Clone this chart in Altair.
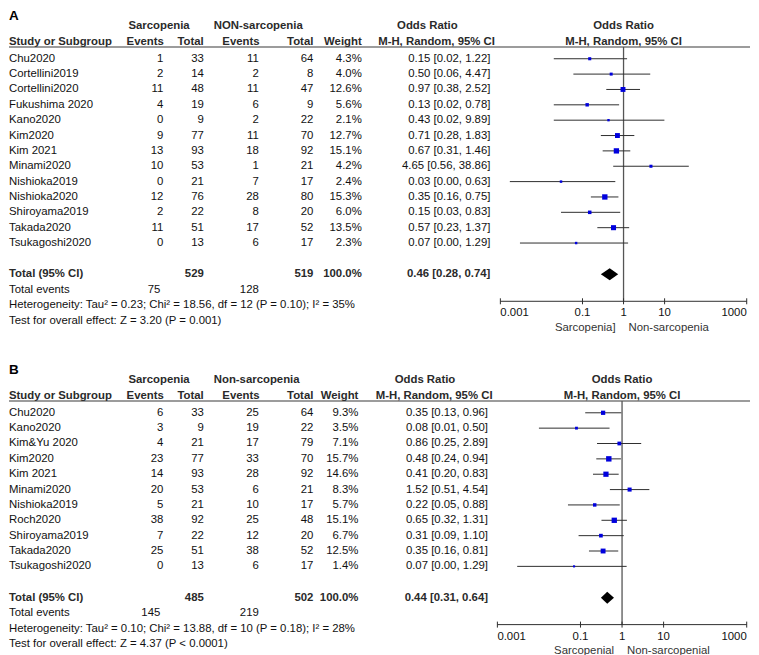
import altair as alt
import pandas as pd

# ---------------- Panel A data ----------------
a_study = ["Chu2020", "Cortellini2019", "Cortellini2020", "Fukushima 2020", "Kano2020", "Kim2020",
           "Kim 2021", "Minami2020", "Nishioka2019", "Nishioka2020", "Shiroyama2019", "Takada2020",
           "Tsukagoshi2020"]
a_sarc_events = [1, 2, 11, 4, 0, 9, 13, 10, 0, 12, 2, 11, 0]
a_sarc_total = [33, 14, 48, 19, 9, 77, 93, 53, 21, 76, 22, 51, 13]
a_non_events = [11, 2, 11, 6, 2, 11, 18, 1, 7, 28, 8, 17, 6]
a_non_total = [64, 8, 47, 9, 22, 70, 92, 21, 17, 80, 20, 52, 17]
a_weight = [4.3, 4.0, 12.6, 5.6, 2.1, 12.7, 15.1, 4.2, 2.4, 15.3, 6.0, 13.5, 2.3]
a_or = [0.15, 0.50, 0.97, 0.13, 0.43, 0.71, 0.67, 4.65, 0.03, 0.35, 0.15, 0.57, 0.07]
a_lo = [0.02, 0.06, 0.38, 0.02, 0.02, 0.28, 0.31, 0.56, 0.0017, 0.16, 0.03, 0.23, 0.003]
a_hi = [1.22, 4.47, 2.52, 0.78, 9.89, 1.83, 1.46, 38.86, 0.63, 0.75, 0.83, 1.37, 1.29]
a_total = {"sarc_total": 529, "non_total": 519, "weight": 100.0, "or": 0.46, "lo": 0.28, "hi": 0.74,
           "sarc_events": 75, "non_events": 128}
a_het = "Heterogeneity: Tau\u00b2 = 0.23; Chi\u00b2 = 18.56, df = 12 (P = 0.10); I\u00b2 = 35%"
a_test = "Test for overall effect: Z = 3.20 (P = 0.001)"
a_groups = ["Sarcopenia", "NON-sarcopenia"]
a_sides = ["Sarcopenia]", "Non-sarcopenia"]

# ---------------- Panel B data ----------------
b_study = ["Chu2020", "Kano2020", "Kim&Yu 2020", "Kim2020", "Kim 2021", "Minami2020", "Nishioka2019",
           "Roch2020", "Shiroyama2019", "Takada2020", "Tsukagoshi2020"]
b_sarc_events = [6, 3, 4, 23, 14, 20, 5, 38, 7, 25, 0]
b_sarc_total = [33, 9, 21, 77, 93, 53, 21, 92, 22, 51, 13]
b_non_events = [25, 19, 17, 33, 28, 6, 10, 25, 12, 38, 6]
b_non_total = [64, 22, 79, 70, 92, 21, 17, 48, 20, 52, 17]
b_weight = [9.3, 3.5, 7.1, 15.7, 14.6, 8.3, 5.7, 15.1, 6.7, 12.5, 1.4]
b_or = [0.35, 0.08, 0.86, 0.48, 0.41, 1.52, 0.22, 0.65, 0.31, 0.35, 0.07]
b_lo = [0.13, 0.01, 0.25, 0.24, 0.20, 0.51, 0.05, 0.32, 0.09, 0.16, 0.003]
b_hi = [0.96, 0.50, 2.89, 0.94, 0.83, 4.54, 0.88, 1.31, 1.10, 0.81, 1.29]
b_total = {"sarc_total": 485, "non_total": 502, "weight": 100.0, "or": 0.44, "lo": 0.31, "hi": 0.64,
           "sarc_events": 145, "non_events": 219}
b_het = "Heterogeneity: Tau\u00b2 = 0.10; Chi\u00b2 = 13.88, df = 10 (P = 0.18); I\u00b2 = 28%"
b_test = "Test for overall effect: Z = 4.37 (P < 0.0001)"
b_groups = ["Sarcopenia", "Non-sarcopenia"]
b_sides = ["Sarcopenial", "Non-sarcopenial"]

# ---------------- shared axis ----------------
tick_values = [0.001, 0.1, 1, 10, 1000]
tick_labels = ["0.001", "0.1", "1", "10", "1000"]

FONT = "Liberation Sans, Arial, Helvetica, sans-serif"
FS = 11.4
TXT = "#111111"
HDR = "#2a2a2a"
LINE = "#2e2e2e"
W = 743
STEP = 15.4
ROW0 = 48

# column positions (px from left of panel)
SE_X, ST_X, NE_X, NT_X = 154.7, 195.3, 250.5, 305.2
G1_X, G2_X = 119.7, 205.3


def fmt_or(e, l, h):
    return f"{e:.2f} [{l:.2f}, {h:.2f}]"


def panel(letter, groups, study, se, st, ne, nt, wt, est, lo, hi, tot, het, test, sides,
          H, xr, w_x, or_x):
    n = len(study)
    r = lambda px: px / STEP
    yscale = alt.Scale(domain=[-ROW0 / STEP, (H - ROW0) / STEP], range=[0, H], nice=False, zero=False)
    xscale = alt.Scale(type="log", domain=[tick_values[0], tick_values[-1]], range=xr, nice=False)
    Y = lambda f: alt.Y(f, type="quantitative", scale=yscale, axis=None)
    X = lambda f: alt.X(f, type="quantitative", scale=xscale, axis=None)

    row_letter = r(-43)
    row_group = r(-32.7)
    row_head = r(-16.5)
    row_line = r(-11.8)
    row_total = (n - 1) + r(31.4)
    row_events = row_total + r(15.6)
    row_het = row_total + r(31)
    row_test = row_total + r(46.4)
    row_axis = row_total + r(27)
    row_axlab = row_axis + r(12)
    row_side = row_axis + r(26.6)

    df = pd.DataFrame({
        "row": list(range(n)),
        "study": study,
        "se": [str(v) for v in se],
        "st": [str(v) for v in st],
        "ne": [str(v) for v in ne],
        "nt": [str(v) for v in nt],
        "wtxt": [f"{v:.1f}%" for v in wt],
        "weight": wt,
        "ortxt": [fmt_or(e, l, h) for e, l, h in zip(est, lo, hi)],
        "est": est, "lo": lo, "hi": hi,
    })

    layers = []

    def col(field, x, align="right", bold=False, data=None):
        return alt.Chart(df if data is None else data).mark_text(
            align=align, baseline="middle", font=FONT, fontSize=FS,
            fontWeight="bold" if bold else "normal", color=TXT
        ).encode(x=alt.value(x), y=Y("row"), text=alt.Text(field, type="nominal"))

    def label(text, row, x=None, xval=None, align="left", bold=False, size=FS, color=TXT, dx=0):
        d = pd.DataFrame({"row": [row], "t": [text], "xv": [xval if xval is not None else 1]})
        enc = dict(y=Y("row"), text=alt.Text("t", type="nominal"))
        enc["x"] = alt.value(x) if x is not None else X("xv")
        return alt.Chart(d).mark_text(
            align=align, baseline="middle", font=FONT, fontSize=size, dx=dx,
            fontWeight="bold" if bold else "normal", color=color
        ).encode(**enc)

    # header texts
    layers += [
        label(letter, row_letter, x=0, bold=True, size=13.5, color="#000"),
        label(groups[0], row_group, x=G1_X, bold=True, color=HDR),
        label(groups[1], row_group, x=G2_X, bold=True, color=HDR),
        label("Odds Ratio", row_group, x=or_x - 63.2, align="center", bold=True, color=HDR),
        label("Odds Ratio", row_group, xval=1, align="center", bold=True, color=HDR),
        label("Study or Subgroup", row_head, x=0, bold=True, color=HDR),
        label("Events", row_head, x=SE_X + 0.6, align="right", bold=True, color=HDR),
        label("Total", row_head, x=ST_X, align="right", bold=True, color=HDR),
        label("Events", row_head, x=NE_X + 0.8, align="right", bold=True, color=HDR),
        label("Total", row_head, x=NT_X, align="right", bold=True, color=HDR),
        label("Weight", row_head, x=w_x, align="right", bold=True, color=HDR),
        label("M-H, Random, 95% CI", row_head, x=or_x - 54, align="center", bold=True, color=HDR),
        label("M-H, Random, 95% CI", row_head, xval=1, align="center", bold=True, color=HDR),
    ]

    # header rule
    layers.append(
        alt.Chart(pd.DataFrame({"row": [row_line]})).mark_rule(color="#3a3a3a", strokeWidth=1.1).encode(
            x=alt.value(0), x2=alt.value(W), y=Y("row"))
    )

    # study rows
    layers += [
        col("study", 0, align="left"),
        col("se", SE_X), col("st", ST_X), col("ne", NE_X), col("nt", NT_X),
        col("wtxt", w_x), col("ortxt", or_x),
    ]

    # totals
    layers += [
        label("Total (95% CI)", row_total, x=0, bold=True, color=HDR),
        label(str(tot["sarc_total"]), row_total, x=ST_X, align="right", bold=True, color=HDR),
        label(str(tot["non_total"]), row_total, x=NT_X, align="right", bold=True, color=HDR),
        label(f"{tot['weight']:.1f}%", row_total, x=w_x, align="right", bold=True, color=HDR),
        label(fmt_or(tot["or"], tot["lo"], tot["hi"]), row_total, x=or_x, align="right", bold=True, color=HDR),
        label("Total events", row_events, x=0),
        label(str(tot["sarc_events"]), row_events, x=SE_X - 3, align="right"),
        label(str(tot["non_events"]), row_events, x=NE_X, align="right"),
        label(het, row_het, x=0),
        label(test, row_test, x=0),
    ]

    # line of no effect
    layers.append(
        alt.Chart(pd.DataFrame({"x": [1], "y": [row_line], "y2": [row_axis]})).mark_rule(
            color="#555", strokeWidth=1.3).encode(x=X("x"), y=Y("y"), y2="y2")
    )

    # CIs and squares
    layers.append(
        alt.Chart(df).mark_rule(color=LINE, strokeWidth=1).encode(x=X("lo"), x2="hi", y=Y("row"))
    )
    layers.append(
        alt.Chart(df).mark_square(filled=True, color="#0000DD", opacity=1, strokeWidth=0).encode(
            x=X("est"), y=Y("row"),
            size=alt.Size("weight", type="quantitative", scale=alt.Scale(domain=[0, 16], range=[2, 30]),
                          legend=None))
    )

    # pooled diamond
    h = r(6)
    dia = pd.DataFrame({
        "x": [tot["lo"], tot["or"], tot["hi"]],
        "y": [row_total, row_total - h, row_total],
        "y2": [row_total, row_total + h, row_total],
    })
    layers.append(
        alt.Chart(dia).mark_area(color="#000", opacity=1).encode(x=X("x"), y=Y("y"), y2="y2")
    )

    # manual log axis
    ticks = pd.DataFrame({"v": tick_values, "lab": tick_labels})
    layers.append(
        alt.Chart(pd.DataFrame({"a": [tick_values[0]], "b": [tick_values[-1]], "row": [row_axis]})).mark_rule(
            color=LINE, strokeWidth=1).encode(x=X("a"), x2="b", y=Y("row"))
    )
    tick_df = ticks.assign(y=row_axis - r(3), y2=row_axis + r(3))
    layers.append(
        alt.Chart(tick_df).mark_rule(color=LINE, strokeWidth=1).encode(x=X("v"), y=Y("y"), y2="y2")
    )
    lab_df = ticks.assign(row=row_axlab)
    for sub, al in ((lab_df.iloc[:1], "left"), (lab_df.iloc[1:-1], "center"), (lab_df.iloc[-1:], "right")):
        layers.append(
            alt.Chart(sub).mark_text(align=al, baseline="middle", font=FONT, fontSize=FS, color=TXT).encode(
                x=X("v"), y=Y("row"), text=alt.Text("lab", type="nominal"))
        )
    layers += [
        label(sides[0], row_side, xval=1, align="right", dx=-8, color="#333"),
        label(sides[1], row_side, xval=1, align="left", dx=5, color="#333"),
    ]

    return alt.layer(*layers).properties(width=W, height=H)


pa = panel("A", a_groups, a_study, a_sarc_events, a_sarc_total, a_non_events, a_non_total, a_weight,
           a_or, a_lo, a_hi, a_total, a_het, a_test, a_sides, H=326, xr=[492.7, 739.7], w_x=353.7, or_x=482.7)
pb = panel("B", b_groups, b_study, b_sarc_events, b_sarc_total, b_non_events, b_non_total, b_weight,
           b_or, b_lo, b_hi, b_total, b_het, b_test, b_sides, H=293, xr=[489.7, 739.7], w_x=350.3, or_x=480.3)

chart = alt.vconcat(pa, pb, spacing=27).properties(padding=0).configure_view(stroke=None)
chart.save("out.html", embed_options={"renderer": "svg", "actions": False})
